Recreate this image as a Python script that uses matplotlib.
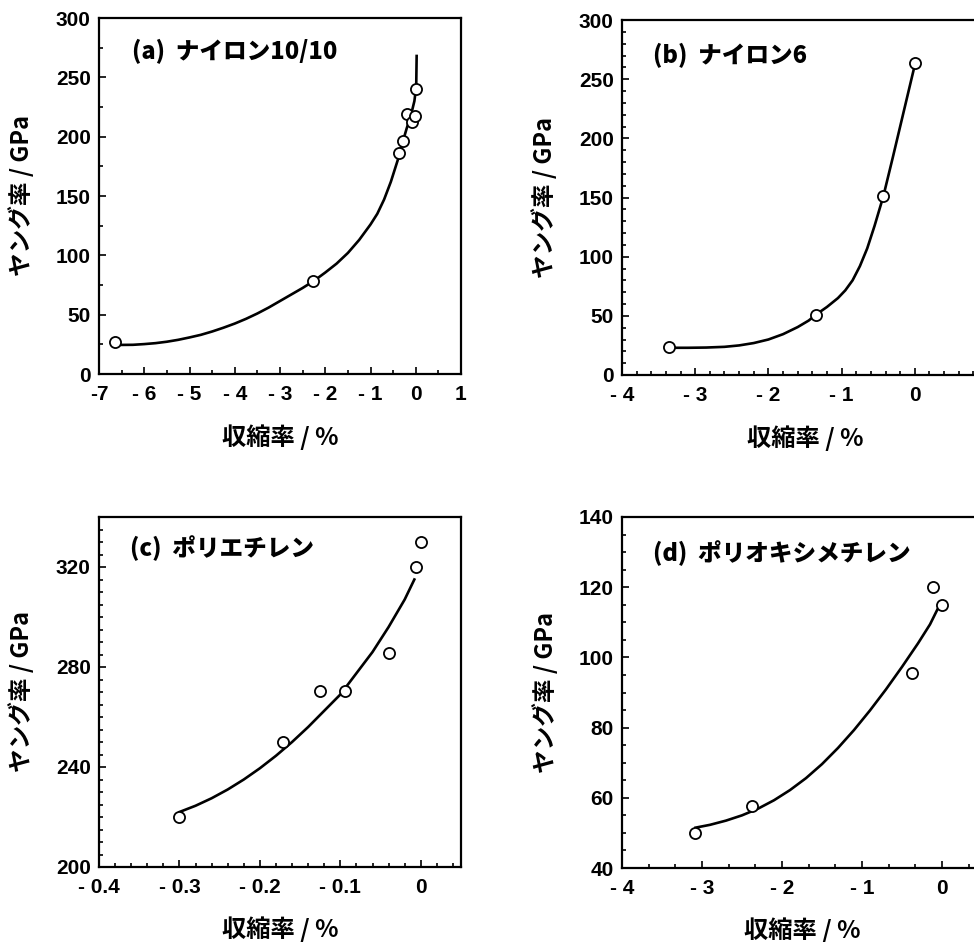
import matplotlib
matplotlib.use("Agg")
from matplotlib import pyplot as plt
from matplotlib.ticker import MultipleLocator

CJK = ['Noto Sans CJK JP', 'DejaVu Sans']
NUM = 'Liberation Sans'

# (a) nylon 10/10
a_x = [-6.65, -2.27, -0.37, -0.28, -0.19, -0.08, -0.02, 0.0]
a_y = [27, 78, 186, 196, 219, 212, 217, 240]
a_cx = [-6.55, -6.25, -6.0, -5.75, -5.5, -5.25, -5.0, -4.75, -4.5, -4.25,
        -4.0, -3.75, -3.5, -3.25, -3.0, -2.75, -2.5, -2.25, -2.0, -1.75,
        -1.5, -1.25, -1.0, -0.85, -0.7, -0.55, -0.4, -0.3, -0.2, -0.1,
        -0.03, 0.01, 0.02]
a_cy = [24.5, 24.6, 25.2, 26, 27.2, 28.8, 30.8, 33, 35.8, 39, 42.5, 46.5,
        51, 56, 61.5, 67, 72.5, 78.5, 85.5, 93, 102, 113, 126, 135, 147,
        162, 180, 194, 207, 219, 230, 242, 268]

# (b) nylon 6
b_x = [-3.36, -1.35, -0.43, 0.0]
b_y = [24, 51, 151, 264]
b_cx = [-3.36, -3.1, -2.85, -2.6, -2.4, -2.2, -2.0, -1.8, -1.6, -1.45,
        -1.35, -1.2, -1.05, -0.95, -0.85, -0.75, -0.65, -0.55, -0.43, -0.3,
        -0.15, 0.0]
b_cy = [23, 23, 23.2, 23.8, 25, 27, 30, 34.5, 40.5, 46, 51, 57.5, 65,
        71.5, 80, 92, 107, 126, 151, 184, 223, 262]

# (c) polyethylene
c_x = [-0.30, -0.171, -0.125, -0.094, -0.04, -0.006, 0.0]
c_y = [220, 250, 270.5, 270.5, 285.7, 320, 330]
c_cx = [-0.30, -0.28, -0.26, -0.24, -0.22, -0.20, -0.18, -0.16, -0.14,
        -0.12, -0.10, -0.08, -0.06, -0.04, -0.02, -0.008]
c_cy = [222, 224.5, 227.5, 231, 235, 239.5, 244.5, 250, 256, 262.5, 269,
        277.5, 286, 296, 307, 315]

# (d) polyoxymethylene
d_x = [-3.09, -2.38, -0.38, -0.11, 0.0]
d_y = [50, 57.7, 95.5, 120, 115]
d_cx = [-3.08, -2.9, -2.7, -2.5, -2.3, -2.1, -1.9, -1.7, -1.5, -1.3, -1.1,
        -0.9, -0.7, -0.5, -0.3, -0.15, -0.05]
d_cy = [51.5, 52.3, 53.5, 55.0, 56.9, 59.3, 62.2, 65.6, 69.6, 74.2, 79.3,
        84.9, 90.9, 97.3, 104.0, 109.4, 114]

titles = ['(a)  ナイロン10/10', '(b)  ナイロン6', '(c)  ポリエチレン',
          '(d)  ポリオキシメチレン']
ylabel = 'ヤング率 / GPa'
xlabel = '収縮率 / %'

a_xt = [-7, -6, -5, -4, -3, -2, -1, 0, 1]
a_xtl = ['-7', '- 6', '- 5', '- 4', '- 3', '- 2', '- 1', '0', '1']
a_yt = [0, 50, 100, 150, 200, 250, 300]
b_xt = [-4, -3, -2, -1, 0]
b_xtl = ['- 4', '- 3', '- 2', '- 1', '0']
b_yt = [0, 50, 100, 150, 200, 250, 300]
c_xt = [-0.4, -0.3, -0.2, -0.1, 0]
c_xtl = ['- 0.4', '- 0.3', '- 0.2', '- 0.1', '0']
c_yt = [200, 240, 280, 320]
d_xt = [-4, -3, -2, -1, 0]
d_xtl = ['- 4', '- 3', '- 2', '- 1', '0']
d_yt = [40, 60, 80, 100, 120, 140]

W, H = 974, 942
fig = plt.figure(figsize=(W / 100, H / 100), dpi=100)

def box(l, t, r, b):
    return [l / W, 1 - b / H, (r - l) / W, (b - t) / H]

panels = [
    dict(rect=box(99, 18, 461, 374), px=a_x, py=a_y, cx=a_cx, cy=a_cy,
         xlim=(-7, 1), ylim=(0, 300), xt=a_xt, xtl=a_xtl, yt=a_yt,
         xmin=0.5, ymin=25, tpos=(0.091, 0.907)),
    dict(rect=box(622, 20, 988, 375), px=b_x, py=b_y, cx=b_cx, cy=b_cy,
         xlim=(-4, 1), ylim=(0, 300), xt=b_xt, xtl=b_xtl, yt=b_yt,
         xmin=0.2, ymin=10, tpos=(0.085, 0.90)),
    dict(rect=box(99, 517, 461, 867), px=c_x, py=c_y, cx=c_cx, cy=c_cy,
         xlim=(-0.4, 0.05), ylim=(200, 340), xt=c_xt, xtl=c_xtl, yt=c_yt,
         xmin=0.02, ymin=5, tpos=(0.086, 0.91)),
    dict(rect=box(622, 517, 982, 868), px=d_x, py=d_y, cx=d_cx, cy=d_cy,
         xlim=(-4, 0.5), ylim=(40, 140), xt=d_xt, xtl=d_xtl, yt=d_yt,
         xmin=1 / 3, ymin=5, tpos=(0.086, 0.896)),
]

for p, title in zip(panels, titles):
    ax = fig.add_axes(p['rect'])
    ax.plot(p['cx'], p['cy'], color='black', lw=1.9, zorder=2,
            solid_joinstyle='round')
    ax.plot(p['px'], p['py'], 'o', ms=8, mfc='white', mec='black',
            mew=1.3, zorder=3)
    ax.set_xlim(*p['xlim'])
    ax.set_ylim(*p['ylim'])
    ax.set_xticks(p['xt'])
    ax.set_xticklabels(p['xtl'])
    ax.set_yticks(p['yt'])
    ax.set_yticklabels([str(v) for v in p['yt']])
    ax.xaxis.set_minor_locator(MultipleLocator(p['xmin']))
    ax.yaxis.set_minor_locator(MultipleLocator(p['ymin']))
    ax.tick_params(which='both', direction='in', top=False, right=False,
                   width=1.2)
    ax.tick_params(which='major', length=5)
    ax.tick_params(which='minor', length=3)
    ax.tick_params(axis='x', pad=8)
    ax.tick_params(axis='y', pad=6)
    for lab in ax.get_xticklabels() + ax.get_yticklabels():
        lab.set_family(NUM)
        lab.set_fontsize(15)
        lab.set_fontweight('bold')
    for s in ax.spines.values():
        s.set_linewidth(1.6)
    ax.text(p['tpos'][0], p['tpos'][1], title, transform=ax.transAxes,
            family=CJK, fontsize=17, fontweight='heavy', va='center',
            ha='left')
    ax.text(-0.214, 0.5, ylabel, transform=ax.transAxes, rotation=90,
            family=CJK, fontsize=17, fontweight='bold', va='center',
            ha='center')
    ax.text(0.5, -0.178, xlabel, transform=ax.transAxes, family=CJK,
            fontsize=17.5, fontweight='bold', va='center', ha='center')

fig.savefig('out.png', dpi=100)
